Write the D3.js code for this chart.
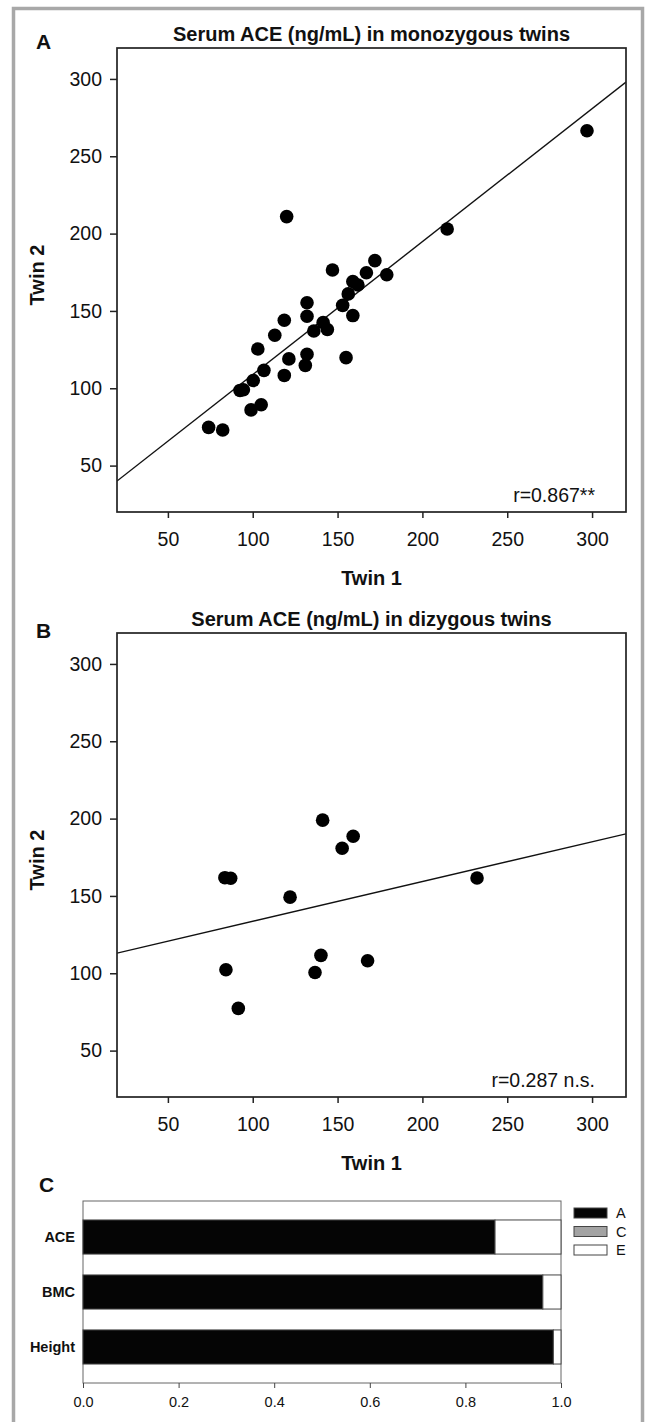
<!DOCTYPE html>
<html>
<head>
<meta charset="utf-8">
<script src="https://cdn.jsdelivr.net/npm/d3@7"></script>
<style>
  body { margin: 0; background: #fff; }
  svg { display: block; font-family: "Liberation Sans", Arial, sans-serif; }
  .tick text { fill: #111; }
  .panel-letter, .title, .axis-title { font-weight: bold; fill: #111; }
</style>
</head>
<body>
<svg id="fig" width="646" height="1422"></svg>
<script>
// ---- data ----
const mzTwin1 = [120, 147, 153, 132, 132, 118.6, 141.5, 136, 144, 113, 103, 121.3, 132, 131, 155,
  106.6, 118.6, 100.3, 92.5, 94.5, 105, 99, 74, 82.3, 214.6, 172, 167, 179, 159, 162, 156.3, 159, 297];
const mzTwin2 = [211, 176.5, 153.6, 155.3, 146.6, 144, 142.5, 137, 138, 134.3, 125.4, 119, 122, 114.8, 119.8,
  111.6, 108.3, 105, 98.6, 99, 89.3, 86, 74.7, 73, 203, 182.5, 174.7, 173.4, 169, 166.8, 161, 147, 266.5];

const dzTwin1 = [141.2, 159.2, 152.7, 83.6, 87, 122, 140.2, 136.7, 167.7, 84.2, 91.5, 232.2];
const dzTwin2 = [199, 188.6, 180.8, 161.8, 161.4, 149.2, 111.6, 100.5, 108.1, 102.3, 77.3, 161.6];

// regression lines: [intercept, slope]
const mzFit = [22.8, 0.86];
const dzFit = [107.9, 0.257];

const scatterTicks = [50, 100, 150, 200, 250, 300];

// ACE model components
const traits = ["ACE", "BMC", "Height"];
const compA = [0.862, 0.962, 0.984];
const compC = [0, 0, 0];
const compE = [0.138, 0.038, 0.016];
const compKeys = ["A", "C", "E"];
const compColors = ["#050505", "#a3a3a3", "#ffffff"];
const barTicks = [0, 0.2, 0.4, 0.6, 0.8, 1.0];

const svg = d3.select("#fig");

// outer frame of the figure
svg.append("rect")
  .attr("x", 13.5).attr("y", 8.5)
  .attr("width", 629).attr("height", 1430)
  .attr("fill", "none")
  .attr("stroke", "#a8a8a8")
  .attr("stroke-width", 3.5);

function scatter(cfg) {
  const x = d3.scaleLinear().domain([20, 320]).range([cfg.left, cfg.right]);
  const y = d3.scaleLinear().domain([20, 320]).range([cfg.bottom, cfg.top]);
  const g = svg.append("g").attr("class", "scatter");

  // axes
  const ya = g.append("g")
    .attr("transform", `translate(${cfg.left},0)`)
    .call(d3.axisLeft(y).tickValues(scatterTicks).tickSize(7).tickPadding(8));
  const xa = g.append("g")
    .attr("transform", `translate(0,${cfg.bottom})`)
    .call(d3.axisBottom(x).tickValues(scatterTicks).tickSize(6).tickPadding(14));
  [xa, ya].forEach(a => {
    a.select(".domain").remove();
    a.selectAll("line").attr("stroke", "#222").attr("stroke-width", 1.5);
    a.selectAll("text").attr("font-size", 19.5);
  });

  // regression line, clipped to the box
  const clipId = cfg.id + "-clip";
  g.append("clipPath").attr("id", clipId)
    .append("rect")
    .attr("x", cfg.left).attr("y", cfg.top)
    .attr("width", cfg.right - cfg.left).attr("height", cfg.bottom - cfg.top);
  g.append("path")
    .datum([20, 320])
    .attr("clip-path", `url(#${clipId})`)
    .attr("fill", "none")
    .attr("stroke", "#111")
    .attr("stroke-width", 1.4)
    .attr("d", d3.line().x(d => x(d)).y(d => y(cfg.fit[0] + cfg.fit[1] * d)));

  g.selectAll("circle")
    .data(cfg.xs.map((v, i) => [v, cfg.ys[i]]))
    .enter()
    .append("circle")
    .attr("cx", d => x(d[0]))
    .attr("cy", d => y(d[1]))
    .attr("r", 6.8)
    .attr("fill", "#000");

  g.append("rect")
    .attr("x", cfg.left).attr("y", cfg.top)
    .attr("width", cfg.right - cfg.left).attr("height", cfg.bottom - cfg.top)
    .attr("fill", "none").attr("stroke", "#222").attr("stroke-width", 1.7);

  g.append("text")
    .attr("x", 595).attr("y", cfg.bottom - 10)
    .attr("text-anchor", "end")
    .attr("font-size", 19.5)
    .attr("fill", "#111")
    .text(cfg.r);

  g.append("text").attr("class", "title")
    .attr("x", (cfg.left + cfg.right) / 2).attr("y", cfg.top - 7)
    .attr("text-anchor", "middle").attr("font-size", 20)
    .text(cfg.title);

  g.append("text").attr("class", "axis-title")
    .attr("x", (cfg.left + cfg.right) / 2).attr("y", cfg.bottom + 73)
    .attr("text-anchor", "middle").attr("font-size", 20)
    .text("Twin 1");

  g.append("text").attr("class", "axis-title")
    .attr("transform", `translate(44,${(cfg.top + cfg.bottom) / 2 - 5})rotate(-90)`)
    .attr("text-anchor", "middle").attr("font-size", 20)
    .text("Twin 2");

  g.append("text").attr("class", "panel-letter")
    .attr("x", 36).attr("y", cfg.top + cfg.letterDy)
    .attr("font-size", 21)
    .text(cfg.letter);
}

scatter({ id: "a", letter: "A", letterDy: 1, left: 117, right: 626, top: 48, bottom: 512,
  xs: mzTwin1, ys: mzTwin2, fit: mzFit, r: "r=0.867**",
  title: "Serum ACE (ng/mL) in monozygous twins" });

scatter({ id: "b", letter: "B", letterDy: 5, left: 117, right: 626, top: 633, bottom: 1097,
  xs: dzTwin1, ys: dzTwin2, fit: dzFit, r: "r=0.287 n.s.",
  title: "Serum ACE (ng/mL) in dizygous twins" });

// ---- panel C: stacked proportions ----
const cBox = { left: 83, right: 561, top: 1201, bottom: 1383 };
const bx = d3.scaleLinear().domain([0, 1]).range([cBox.left, cBox.right]);
const by = d3.scaleBand().domain(traits).range([cBox.top, cBox.bottom])
  .paddingInner(0.38).paddingOuter(0.345);

const rows = traits.map((t, i) => ({ trait: t, A: compA[i], C: compC[i], E: compE[i] }));
const stacked = d3.stack().keys(compKeys)(rows);

const gc = svg.append("g").attr("class", "bars");
gc.append("rect")
  .attr("x", cBox.left).attr("y", cBox.top)
  .attr("width", cBox.right - cBox.left).attr("height", cBox.bottom - cBox.top)
  .attr("fill", "#fff").attr("stroke", "#666").attr("stroke-width", 1);

gc.selectAll(".layer")
  .data(stacked)
  .enter().append("g")
  .attr("class", "layer")
  .attr("fill", (d, i) => compColors[i])
  .selectAll("rect")
  .data(d => d.filter(e => e[1] - e[0] > 0))
  .enter().append("rect")
  .attr("x", d => bx(d[0]))
  .attr("y", d => by(d.data.trait))
  .attr("width", d => bx(d[1]) - bx(d[0]))
  .attr("height", by.bandwidth())
  .attr("stroke", "#444")
  .attr("stroke-width", 1);

const cx = gc.append("g")
  .attr("transform", `translate(0,${cBox.bottom})`)
  .call(d3.axisBottom(bx).tickValues(barTicks).tickFormat(d3.format(".1f")).tickSize(5).tickPadding(9));
cx.select(".domain").remove();
cx.selectAll("line").attr("stroke", "#444");
cx.selectAll("text").attr("font-size", 14.5);

const cy = gc.append("g")
  .attr("transform", `translate(${cBox.left},0)`)
  .call(d3.axisLeft(by).tickSize(0).tickPadding(8));
cy.select(".domain").remove();
cy.selectAll("text").attr("font-size", 14.5).attr("font-weight", "bold");

gc.append("text").attr("class", "panel-letter")
  .attr("x", 39).attr("y", 1192).attr("font-size", 21).text("C");

// legend
const leg = gc.append("g").attr("transform", "translate(574,1208)");
compKeys.forEach((k, i) => {
  leg.append("rect")
    .attr("x", 0).attr("y", i * 18.5)
    .attr("width", 33).attr("height", 10)
    .attr("fill", compColors[i]).attr("stroke", "#444");
  leg.append("text")
    .attr("x", 42).attr("y", i * 18.5 + 10)
    .attr("font-size", 14.5).attr("fill", "#111")
    .text(k);
});
</script>
</body>
</html>
